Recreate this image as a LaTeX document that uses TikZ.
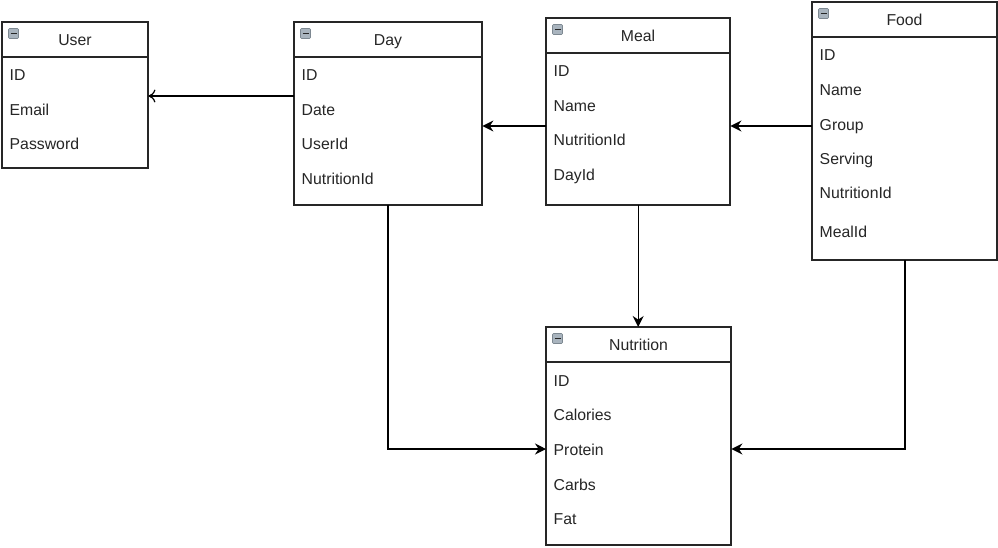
\documentclass[tikz,border=0pt]{standalone}
\usepackage{fontspec}
\setmainfont{Liberation Sans}
\usetikzlibrary{arrows.meta}
\definecolor{ink}{HTML}{262626}
\definecolor{iconfill}{HTML}{A9B4BE}
\definecolor{iconline}{HTML}{7D8891}
\tikzset{
  x=1pt, y=-1pt,
  table/.style={draw=ink, line width=1.4pt, fill=white},
  sepline/.style={draw=ink, line width=1.4pt},
  title/.style={font=\fontsize{15.8}{18}\selectfont, text=ink, anchor=base},
  field/.style={font=\fontsize{15.8}{18}\selectfont, text=ink, anchor=base west, inner sep=0pt},
  link/.style={draw=black, line width=1.3pt, -{Stealth[length=11pt,width=11pt]}},
  weaklink/.style={draw=black, line width=1.1pt, -{To[length=7pt,width=13pt,line width=1.2pt]}},
}
% one entity box: name, left, top, right, bottom, separator y, title
\newcommand{\entity}[7]{%
  \draw[table] (#2,#3) rectangle (#4,#5);
  \draw[sepline] (#2,#6) -- (#4,#6);
  \node[inner sep=0pt, minimum width=#4pt-#2pt, minimum height=#5pt-#3pt, anchor=north west] (#1) at (#2,#3) {};
  \fill[iconfill, draw=iconline, line width=0.6pt, rounded corners=1pt] (#2+6.5,#3+6.5) rectangle (#2+16.5,#3+16.5);
  \draw[ink, line width=1.4pt] (#2+8.5,#3+11.5) -- (#2+14.5,#3+11.5);
  \node[title] (#1-title) at ({(#2+#4)/2},{(#3+#6)/2+5.5}) {#7};
}
\begin{document}
\begin{tikzpicture}
\useasboundingbox (0,0) rectangle (998,547);

% entities
\entity{user}{2}{22}{148}{168}{57}{User}
\entity{day}{294}{22}{482}{205}{57}{Day}
\entity{meal}{546}{18}{730}{205}{53}{Meal}
\entity{food}{812}{2}{997}{260}{37}{Food}
\entity{nutr}{546}{327}{731}{545}{362}{Nutrition}

% fields
\node[field] (user-f1) at (9.5,80) {ID};
\node[field] (user-f2) at (9.5,115) {Email};
\node[field] (user-f3) at (9.5,149) {Password};

\node[field] (day-f1) at (301.5,80) {ID};
\node[field] (day-f2) at (301.5,115) {Date};
\node[field] (day-f3) at (301.5,149) {UserId};
\node[field] (day-f4) at (301.5,184) {NutritionId};

\node[field] (meal-f1) at (553.5,76) {ID};
\node[field] (meal-f2) at (553.5,111) {Name};
\node[field] (meal-f3) at (553.5,145) {NutritionId};
\node[field] (meal-f4) at (553.5,180) {DayId};

\node[field] (food-f1) at (819.5,60) {ID};
\node[field] (food-f2) at (819.5,95) {Name};
\node[field] (food-f3) at (819.5,130) {Group};
\node[field] (food-f4) at (819.5,164) {Serving};
\node[field] (food-f5) at (819.5,198) {NutritionId};
\node[field] (food-f6) at (819.5,237) {MealId};

\node[field] (nutr-f1) at (553.5,386) {ID};
\node[field] (nutr-f2) at (553.5,420) {Calories};
\node[field] (nutr-f3) at (553.5,455) {Protein};
\node[field] (nutr-f4) at (553.5,490) {Carbs};
\node[field] (nutr-f5) at (553.5,524) {Fat};

% relations
\draw[weaklink] (day.west |- 0,96) -- (user.east |- 0,96);
\draw[link] (meal.west |- 0,126) -- (day.east |- 0,126);
\draw[link] (food.west |- 0,126) -- (meal.east |- 0,126);
\draw[link] (meal.south) -- (meal.south |- nutr.north);
\draw[link] (388,205) coordinate (daybot) -- (daybot |- 0,449) -- (nutr.west |- 0,449);
\draw[link] (905,260) coordinate (foodbot) -- (foodbot |- 0,449) -- (nutr.east |- 0,449);
\end{tikzpicture}
\end{document}
